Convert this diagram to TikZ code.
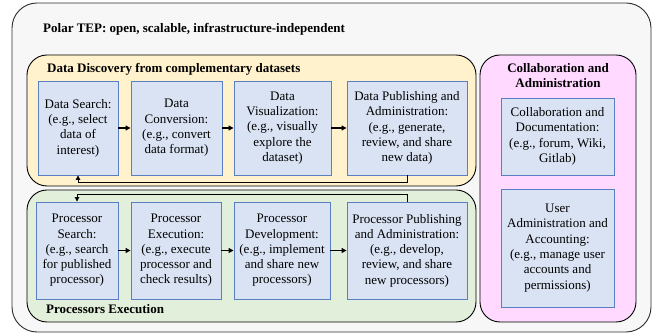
\documentclass[tikz,border=0pt]{standalone}
\usepackage{fontspec}
\setmainfont{Liberation Serif}
\newfontfamily\labelserif{Liberation Serif}
\usetikzlibrary{arrows.meta}

\definecolor{platformfill}{HTML}{F7F7F7}
\definecolor{datafill}{HTML}{FFF2CC}
\definecolor{procfill}{HTML}{E2EFDA}
\definecolor{collabfill}{HTML}{FFD9FF}
\definecolor{taskfill}{HTML}{DAE3F3}
\definecolor{taskline}{HTML}{5A7EC2}
\definecolor{frameline}{HTML}{2B2B2B}

\tikzset{
  textfont/.style={font=\labelserif\fontsize{13}{15.3}\selectfont},
  titlefont/.style={font=\labelserif\fontsize{13}{15.3}\selectfont\bfseries},
  platform/.style={draw=frameline, line width=0.9pt, fill=platformfill, rounded corners=25pt},
  group/.style={draw=black, line width=0.9pt, rounded corners=20pt},
  task/.style={rectangle, draw=taskline, line width=0.9pt, fill=taskfill,
               inner sep=0pt, align=center, textfont},
  flow/.style={-{Triangle[length=5pt,width=5pt]}, line width=1.3pt, black},
  link/.style={-{Triangle[length=4.5pt,width=4.5pt]}, line width=0.9pt, black},
  heading/.style={anchor=base west, inner sep=0pt, titlefont}
}

\begin{document}
\begin{tikzpicture}[x=1pt, y=-1pt]
\useasboundingbox (0,0) rectangle (657,336);

% platform frame
\draw[platform] (12,3) rectangle (651,332);
\node[heading] (ttl) at (43,32.5) {Polar TEP: open, scalable, infrastructure-independent};

% group containers
\draw[group, fill=datafill] (27,55) rectangle (476,186);
\draw[group, fill=procfill] (27,190) rectangle (476,322);
\draw[group, fill=collabfill] (480,55) rectangle (636,322);

\node[heading] (tdata) at (47,72.5) {Data Discovery from complementary datasets};
\node[heading] (tproc) at (46,313.5) {Processors Execution};
\node[titlefont, align=center, inner sep=0pt] (tcol) at (558,75.7) {Collaboration and\\Administration};

% data discovery row
\node[task, minimum width=80pt, minimum height=94pt] (D1) at (78,128)
  {Data Search:\\(e.g., select\\data of\\interest)};
\node[task, minimum width=91pt, minimum height=94pt] (D2) at (176.5,128)
  {Data\\Conversion:\\(e.g., convert\\data format)};
\node[task, minimum width=97pt, minimum height=94pt] (D3) at (282.5,128)
  {Data\\Visualization:\\(e.g., visually\\explore the\\dataset)};
\node[task, minimum width=120pt, minimum height=94pt] (D4) at (407,128)
  {Data Publishing and\\Administration:\\(e.g., generate,\\review, and share\\new data)};

% processor row
\node[task, minimum width=82pt, minimum height=97pt] (P1) at (77,250.5)
  {Processor\\Search:\\(e.g., search\\for published\\processor)};
\node[task, minimum width=90pt, minimum height=97pt] (P2) at (176,250.5)
  {Processor\\Execution:\\(e.g., execute\\processor and\\check results)};
\node[task, minimum width=96pt, minimum height=97pt] (P3) at (282,250.5)
  {Processor\\Development:\\(e.g., implement\\and share new\\processors)};
\node[task, minimum width=120pt, minimum height=97pt] (P4) at (407,250.5)
  {Processor Publishing\\and Administration:\\(e.g., develop,\\review, and share\\new processors)};

% collaboration column
\node[task, minimum width=113pt, minimum height=77pt] (C1) at (557.5,136.5)
  {Collaboration and\\Documentation:\\(e.g., forum, Wiki,\\Gitlab)};
\node[task, minimum width=113pt, minimum height=118pt] (C2) at (557.5,248)
  {User\\Administration and\\Accounting:\\(e.g., manage user\\accounts and\\permissions)};

% row flows
\draw[flow] (D1) -- (D2);
\draw[flow] (D2) -- (D3);
\draw[flow] (D3) -- (D4);
\draw[flow] (P1) -- (P2);
\draw[flow] (P2) -- (P3);
\draw[flow] (P3) -- (P4);

% feedback loops
\coordinate (k1) at (407,182.5);
\coordinate (k2) at (407,194);
\draw[link] (D4.south) -- (k1) -| (D1.south);
\draw[link] (P4.north) -- (k2) -| (P1.north);
\end{tikzpicture}
\end{document}
